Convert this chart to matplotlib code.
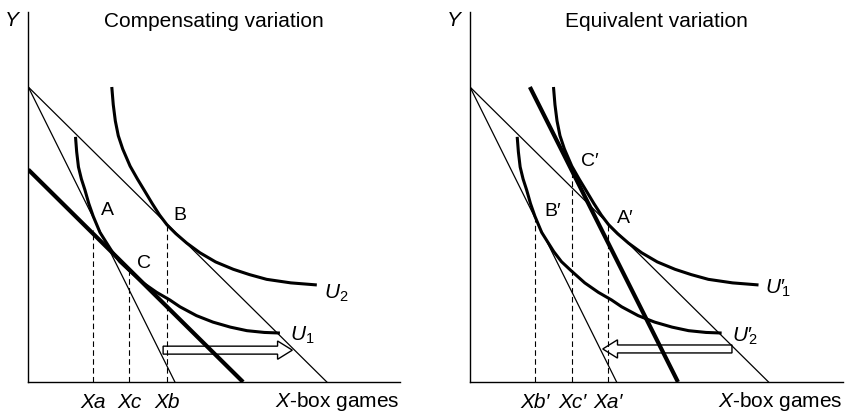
import matplotlib
matplotlib.use('Agg')
import matplotlib.pyplot as plt
from matplotlib.patches import FancyArrow

plt.rcParams['font.family'] = ['Liberation Sans', 'DejaVu Sans']
plt.rcParams['mathtext.fontset'] = 'custom'
plt.rcParams['mathtext.rm'] = 'Liberation Sans'
plt.rcParams['mathtext.it'] = 'Liberation Sans:italic'

# price lines through the common Y intercept (old price steep, new price flat)
steep_x = [0, 4.97]
steep_y = [10, 0]
flat_x = [0, 10.12]
flat_y = [10, 0]

# compensating budget line (parallel to flat) and equivalent one (parallel to steep)
cv_line_x = [0, 7.28]
cv_line_y = [7.2, 0]
ev_line_x = [2.03, 7.05]
ev_line_y = [10, 0]

# indifference curves, same shapes in both panels
u_high_x = [2.83, 2.88, 2.95, 3.05, 3.20, 3.45, 3.70, 3.96, 4.20, 4.45, 4.70,
            5.00, 5.37, 5.82, 6.35, 6.95, 7.50, 8.08, 8.90, 9.78]
u_high_y = [10.0, 9.40, 8.85, 8.35, 7.90, 7.32, 6.88, 6.45, 6.05, 5.66, 5.33,
            5.03, 4.71, 4.38, 4.07, 3.82, 3.64, 3.48, 3.36, 3.29]
u_low_x = [1.60, 1.64, 1.70, 1.80, 1.92, 2.05, 2.20, 2.43, 2.84, 3.10, 3.42,
           3.89, 4.35, 4.80, 5.14, 5.70, 6.26, 6.85, 7.41, 8.00, 8.53]
u_low_y = [8.31, 7.80, 7.29, 6.88, 6.51, 6.05, 5.62, 5.07, 4.42, 4.08, 3.78,
           3.36, 3.04, 2.78, 2.55, 2.25, 2.03, 1.86, 1.74, 1.68, 1.66]

# quantities marked on the X axis
cv_drop_x = [2.20, 3.42, 4.70]
cv_drop_y = [5.15, 3.75, 5.30]
cv_ticks = ['Xa', 'Xc', 'Xb']
ev_drop_x = [2.20, 3.46, 4.68]
ev_drop_y = [5.50, 7.10, 5.32]
ev_ticks = ['Xb\u2032', 'Xc\u2032', 'Xa\u2032']

# point labels
cv_points = {'A': (2.70, 5.83), 'B': (5.14, 5.66), 'C': (3.93, 4.02)}
ev_points = {'C\u2032': (4.06, 7.47), 'B\u2032': (2.79, 5.77), 'A\u2032': (5.27, 5.55)}
cv_curve_labels = {'$U_2$': (10.45, 3.0), '$U_1$': (9.27, 1.59)}
# primed labels: prime at full size, subscript tucked back under it
ev_curve_labels = {'$U\u2032\\!{}_1$': (10.45, 3.18),
                   '$U\u2032\\!{}_2$': (9.3, 1.54)}

# income shift arrows (start x, end x, y)
cv_arrow = (4.57, 8.95, 1.08)
ev_arrow = (8.88, 4.50, 1.12)

PX = 29.5  # pixels per data unit
W, H = 846, 413
FS = 15

fig = plt.figure(figsize=(W / 100, H / 100), dpi=100)


def draw_panel(ax_left_px, ax_right_px, title, comp_x, comp_y, drop_x, drop_y,
               ticks, points, curve_labels, arrow):
    x0, y0, top = ax_left_px, 382, 12
    ax = fig.add_axes([x0 / W, (H - y0) / H, (ax_right_px - x0) / W, (y0 - top) / H])
    xmax = (ax_right_px - x0) / PX
    ax.set_xlim(0, xmax)
    ax.set_ylim(0, (y0 - top) / PX)
    for s in ['top', 'right']:
        ax.spines[s].set_visible(False)
    for s in ['left', 'bottom']:
        ax.spines[s].set_linewidth(1.0)
    ax.set_yticks([])

    ax.plot(steep_x, steep_y, color='black', lw=0.9)
    ax.plot(flat_x, flat_y, color='black', lw=0.9)
    ax.plot(comp_x, comp_y, color='black', lw=3.0, solid_capstyle='butt')
    ax.plot(u_high_x, u_high_y, color='black', lw=2.2, solid_capstyle='butt')
    ax.plot(u_low_x, u_low_y, color='black', lw=2.2, solid_capstyle='butt')

    for dx, dy in zip(drop_x, drop_y):
        ax.plot([dx, dx], [0, dy], color='black', lw=0.8, ls=(0, (5, 3)))

    ax.set_xticks(drop_x)
    ax.set_xticklabels(ticks, fontsize=FS, fontstyle='italic')
    ax.tick_params(axis='x', length=0, pad=8)

    for txt, (tx, ty) in points.items():
        ax.text(tx, ty, txt, fontsize=14, ha='center', va='center')
    for txt, (tx, ty) in curve_labels.items():
        ax.text(tx, ty, txt, fontsize=FS, ha='center', va='center')

    sx, ex, ay = arrow
    ax.add_patch(FancyArrow(sx, ay, ex - sx, 0, width=0.27, head_width=0.62,
                            head_length=0.5, length_includes_head=True,
                            facecolor='white', edgecolor='black', lw=1.0, zorder=1))

    ax.text(xmax, -0.67, '$X$-box games', fontsize=FS, ha='right', va='center')
    ax.text(xmax / 2, 12.22, title, fontsize=FS, ha='center', va='center')
    ax.text(-0.52, 12.27, '$Y$', fontsize=FS, ha='center', va='center')
    return ax


draw_panel(28.3, 400, 'Compensating variation', cv_line_x, cv_line_y,
           cv_drop_x, cv_drop_y, cv_ticks, cv_points, cv_curve_labels, cv_arrow)
draw_panel(470, 843, 'Equivalent variation', ev_line_x, ev_line_y,
           ev_drop_x, ev_drop_y, ev_ticks, ev_points, ev_curve_labels, ev_arrow)

fig.savefig('out.png', dpi=100)
